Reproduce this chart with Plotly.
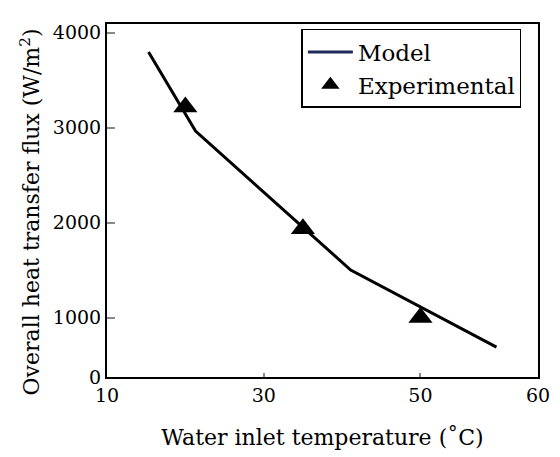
import plotly.graph_objects as go

# Model curve
model_x = [15.3, 21.3, 41.1, 59.7]
model_y = [3795, 2963, 1500, 689]

# Experimental points
exp_x = [20, 35, 50]
exp_y = [3215, 1935, 1000]

# Axis ticks (the original axes are not uniformly labelled)
x_tickvals = [10, 30, 50, 65]
x_ticktext = ["10", "30", "50", "60"]
y_tickvals = [374, 1000, 2000, 3000, 4000]
y_ticktext = ["0", "1000", "2000", "3000", "4000"]

FONT = "DejaVu Serif"

fig = go.Figure()
fig.add_trace(go.Scatter(x=model_x, y=model_y, mode="lines",
                         line=dict(color="black", width=3), showlegend=False,
                         name="Model"))
fig.add_trace(go.Scatter(x=[None], y=[None], mode="lines",
                         line=dict(color="#1c2a5a", width=3), name="Model"))
fig.add_trace(go.Scatter(x=exp_x, y=exp_y, mode="markers",
                         marker=dict(symbol="triangle-up", size=21, color="black"),
                         name="Experimental"))

fig.update_layout(
    width=560, height=457,
    margin=dict(l=107, r=10, t=24, b=80),
    paper_bgcolor="white", plot_bgcolor="white",
    font=dict(family=FONT, size=19, color="black"),
    legend=dict(x=0.451, y=0.986, xanchor="left", yanchor="top",
                bgcolor="white", bordercolor="black", borderwidth=1.5,
                font=dict(family=FONT, size=23, color="black"),
                itemwidth=45, tracegroupgap=0),
    annotations=[dict(text="Overall heat transfer flux (W/m<sup>2</sup>)",
                      textangle=-90, xref="paper", yref="paper",
                      x=-0.178, y=0.467, xanchor="center", yanchor="middle",
                      showarrow=False, font=dict(family=FONT, size=22, color="black"))],
)
fig.update_xaxes(range=[10, 65], tickvals=x_tickvals, ticktext=x_ticktext,
                 ticks="inside", ticklen=4, tickcolor="#888", tickwidth=1.5,
                 showline=True, linecolor="black", linewidth=2, mirror=True,
                 showgrid=False, zeroline=False, ticklabeloverflow="allow",
                 tickfont=dict(family=FONT, size=19),
                 title=dict(text="Water inlet temperature (˚C)",
                            font=dict(family=FONT, size=22), standoff=25))
fig.update_yaxes(range=[374, 4090], tickvals=y_tickvals, ticktext=y_ticktext,
                 ticks="inside", ticklen=8, tickcolor="#888", tickwidth=1.5,
                 showline=True, linecolor="black", linewidth=2, mirror=True,
                 showgrid=False, zeroline=False,
                 tickfont=dict(family=FONT, size=19))

fig.write_html("out.html")
